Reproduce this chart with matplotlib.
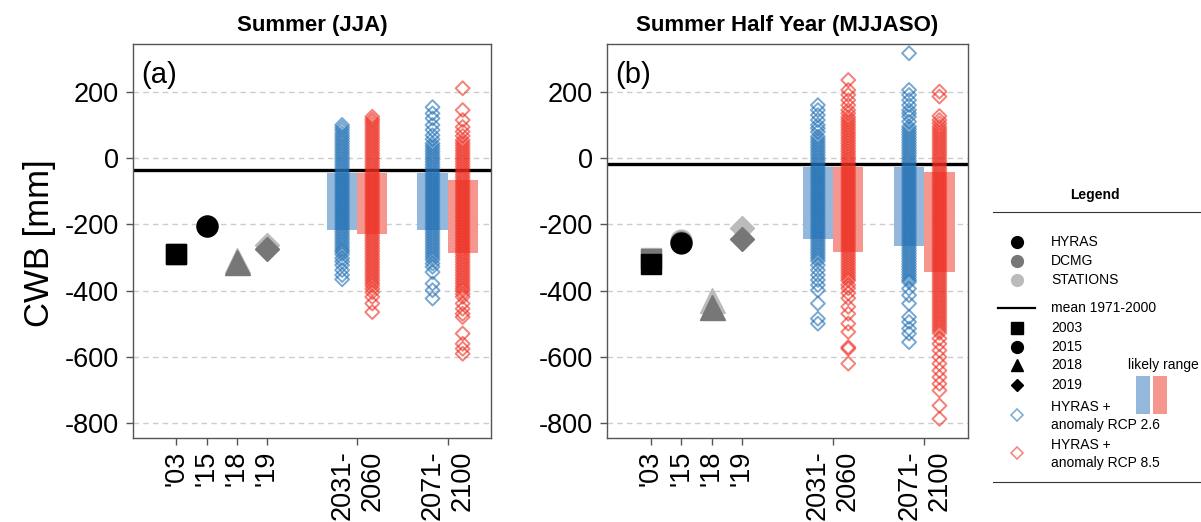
import matplotlib
matplotlib.use('Agg')

import numpy as np
import matplotlib.pyplot as plt
from matplotlib.patches import Rectangle

plt.rcParams['font.family'] = ['Liberation Sans', 'DejaVu Sans']
plt.rcParams['axes.unicode_minus'] = False

# ---------------------------------------------------------------------------
# data (CWB in mm)
# ---------------------------------------------------------------------------
panel_titles = ["Summer (JJA)", "Summer Half Year (MJJASO)"]
panel_tags = ["(a)", "(b)"]
tick_labels = ["'03", "'15", "'18", "'19", "2031-\n2060", "2071-\n2100"]
tick_pos = [1, 2, 3, 4, 7, 10]
obs_pos = [1, 2, 3, 4]
rcp26_pos = [6.5, 9.5]
rcp85_pos = [7.5, 10.5]

# observed years 2003, 2015, 2018, 2019 (nan = not available)
a_hyras = [-290, -205, np.nan, np.nan]
a_dcmg = [-290, -205, -314, -273]
a_stations = [-290, -205, -308, -262]
b_hyras = [-320, -256, np.nan, np.nan]
b_dcmg = [-305, -252, -451, -245]
b_stations = [-300, -248, -427, -212]

# mean 1971-2000
mean_ref = [-35, -18]

# likely range (top, bottom) for 2031-2060 and 2071-2100
a_range26 = [(-43, -217), (-43, -217)]
a_range85 = [(-43, -230), (-64, -286)]
b_range26 = [(-25, -244), (-25, -265)]
b_range85 = [(-25, -282), (-41, -345)]

# HYRAS + anomaly ensembles
a26_mid = [101, 93, 85, 76, 68, 60, 52, 44, 36, 28, 20, 12, 4, -4, -12, -20,
           -28, -36, -44, -52, -60, -68, -76, -84, -92, -100, -108, -116, -124,
           -132, -140, -148, -156, -164, -172, -180, -188, -196, -204, -212,
           -220, -228, -236, -244, -252, -260, -268, -276, -282, -290, -302,
           -312, -323, -338, -353, -366]
a85_mid = [126, 118, 111, 103, 95, 87, 79, 71, 63, 55, 47, 39, 31, 23, 15, 7,
           -1, -9, -17, -25, -33, -41, -49, -57, -65, -73, -81, -89, -97, -105,
           -113, -121, -129, -137, -145, -153, -161, -169, -177, -185, -193,
           -201, -209, -217, -225, -233, -241, -249, -257, -265, -273, -281,
           -289, -297, -305, -313, -321, -329, -337, -345, -353, -361, -369,
           -377, -385, -395, -405, -419, -439, -465]
a26_late = [155, 136, 121, 101, 86, 70, 58, 45, 37, 29, 21, 13, 5, -3, -11,
            -19, -27, -35, -43, -51, -59, -67, -75, -83, -91, -99, -107, -115,
            -123, -131, -139, -147, -155, -163, -171, -179, -187, -195, -203,
            -211, -219, -227, -235, -243, -251, -259, -267, -275, -283, -291,
            -299, -307, -318, -328, -344, -379, -399, -424]
a85_late = [212, 146, 116, 95, 81, 68, 55, 47, 39, 31, 23, 15, 7, -1, -9, -17,
            -25, -33, -41, -49, -57, -65, -73, -81, -89, -97, -105, -113, -121,
            -129, -137, -145, -153, -161, -169, -177, -185, -193, -201, -209,
            -217, -225, -233, -241, -249, -257, -265, -273, -281, -289, -297,
            -305, -313, -321, -329, -337, -345, -353, -361, -369, -377, -385,
            -393, -400, -410, -419, -439, -455, -470, -480, -530, -561, -576,
            -591]
b26_mid = [161, 146, 131, 116, 101, 91, 80, 66, 58, 50, 42, 34, 26, 18, 10, 2,
           -6, -14, -22, -30, -38, -46, -54, -62, -70, -78, -86, -94, -102,
           -110, -118, -126, -134, -142, -150, -158, -166, -174, -182, -190,
           -198, -206, -214, -222, -230, -238, -246, -254, -262, -270, -278,
           -286, -294, -302, -310, -323, -338, -353, -368, -383, -399, -439,
           -485, -500]
b85_mid = [237, 207, 192, 176, 161, 146, 136, 125, 117, 109, 101, 93, 85, 77,
           69, 61, 53, 45, 37, 29, 21, 13, 5, -3, -11, -19, -27, -35, -43, -51,
           -59, -67, -75, -83, -91, -99, -107, -115, -123, -131, -139, -147,
           -155, -163, -171, -179, -187, -195, -203, -211, -219, -227, -235,
           -243, -251, -259, -267, -275, -283, -291, -299, -307, -315, -323,
           -331, -339, -347, -355, -363, -370, -383, -393, -408, -423, -449,
           -470, -500, -525, -571, -576, -621]
b26_late = [318, 207, 192, 176, 161, 146, 136, 126, 111, 96, 88, 80, 72, 64,
            56, 48, 40, 32, 24, 16, 8, 0, -8, -16, -24, -32, -40, -48, -56,
            -64, -72, -80, -88, -96, -104, -112, -120, -128, -136, -144, -152,
            -160, -168, -176, -184, -192, -200, -208, -216, -224, -232, -240,
            -248, -256, -264, -272, -280, -288, -296, -304, -312, -320, -328,
            -336, -344, -352, -360, -368, -374, -394, -414, -439, -480, -495,
            -515, -530, -556]
b85_late = [202, 187, 128, 116, 106, 96, 88, 80, 72, 64, 56, 48, 40, 32, 24,
            16, 8, 0, -8, -16, -24, -32, -40, -48, -56, -64, -72, -80, -88,
            -96, -104, -112, -120, -128, -136, -144, -152, -160, -168, -176,
            -184, -192, -200, -208, -216, -224, -232, -240, -248, -256, -264,
            -272, -280, -288, -296, -304, -312, -320, -328, -336, -344, -352,
            -360, -368, -376, -384, -392, -400, -408, -416, -424, -432, -440,
            -448, -456, -464, -472, -480, -488, -496, -504, -512, -520, -528,
            -545, -561, -581, -601, -621, -642, -662, -682, -702, -748, -788]

# ---------------------------------------------------------------------------
# styles
# ---------------------------------------------------------------------------
BLUE = '#1f6fb4'
RED = '#ee2b1e'
LBLUE = '#93b8dc'
LRED = '#f5968f'
C_HYRAS = 'black'
C_DCMG = '#777777'
C_STAT = '#bbbbbb'
FRAME = '#555555'
obs_markers = ['s', 'o', '^', 'D']
obs_sizes = [15, 15, 18, 12]

fig = plt.figure(figsize=(12.01, 5.22), dpi=100)
W, H = 1201.0, 522.0
ax_a = fig.add_axes([133 / W, 1 - 438 / H, (491 - 133) / W, 394 / H])
ax_b = fig.add_axes([607 / W, 1 - 438 / H, (968 - 607) / W, 394 / H])

panels = [
    (ax_a, a_hyras, a_dcmg, a_stations, a_range26, a_range85,
     [a26_mid, a26_late], [a85_mid, a85_late]),
    (ax_b, b_hyras, b_dcmg, b_stations, b_range26, b_range85,
     [b26_mid, b26_late], [b85_mid, b85_late]),
]

for i, (ax, hy, dc, st, r26, r85, ens26, ens85) in enumerate(panels):
    # likely range bars
    for x, (top, bot) in zip(rcp26_pos, r26):
        ax.bar(x, top - bot, bottom=bot, width=1.0, color=LBLUE, zorder=2,
               linewidth=0)
    for x, (top, bot) in zip(rcp85_pos, r85):
        ax.bar(x, top - bot, bottom=bot, width=1.0, color=LRED, zorder=2,
               linewidth=0)

    ax.axhline(mean_ref[i], color='black', lw=2.4, zorder=2.5)

    # ensembles
    for x, vals in zip(rcp26_pos, ens26):
        ax.scatter(np.full(len(vals), x), vals, marker='D', s=50,
                   facecolors='none', edgecolors=BLUE, linewidths=1.4,
                   alpha=0.6, zorder=3)
    for x, vals in zip(rcp85_pos, ens85):
        ax.scatter(np.full(len(vals), x), vals, marker='D', s=50,
                   facecolors='none', edgecolors=RED, linewidths=1.4,
                   alpha=0.6, zorder=3)

    # observations: stations, dcmg, hyras (hyras on top)
    for vals, col in [(st, C_STAT), (dc, C_DCMG), (hy, C_HYRAS)]:
        for x, v, m, ms in zip(obs_pos, vals, obs_markers, obs_sizes):
            ax.plot(x, v, marker=m, ms=ms, color=col, mec=col, zorder=4,
                    linestyle='none')

    ax.set_xlim(-0.44, 11.44)
    ax.set_ylim(-846, 346)
    ax.set_yticks([200, 0, -200, -400, -600, -800])
    ax.set_xticks(tick_pos)
    ax.set_xticklabels(tick_labels, rotation=90, va='top', ha='center')
    for lbl in ax.get_xticklabels():
        lbl.set_multialignment('right')
    ax.tick_params(axis='both', labelsize=19.5, length=5, width=1,
                   color=FRAME)
    ax.tick_params(axis='x', pad=4)
    ax.tick_params(axis='y', pad=5)
    ax.set_axisbelow(True)
    ax.grid(axis='y', color='#cccccc', linestyle=(0, (4, 3)), linewidth=1)
    for sp in ax.spines.values():
        sp.set_color(FRAME)
        sp.set_linewidth(1)
    ax.set_title(panel_titles[i], fontsize=16, fontweight='bold', pad=9)
    ax.text(0.024, 0.921, panel_tags[i], transform=ax.transAxes,
            fontsize=21, ha='left', va='center')

fig.text(39 / W, 1 - 243 / H, 'CWB [mm]', rotation=90, fontsize=25,
         ha='center', va='center')

# ---------------------------------------------------------------------------
# legend panel
# ---------------------------------------------------------------------------
lg = fig.add_axes([990 / W, 0, 211 / W, 1])
lg.set_xlim(990, 1201)
lg.set_ylim(522, 0)
lg.axis('off')

lg.text(1095, 195, 'Legend', fontsize=10, fontweight='bold',
        ha='center', va='center')
lg.plot([993, 1201], [212, 212], color='#333333', lw=0.8)
lg.plot([993, 1201], [482, 482], color='#333333', lw=0.8)

tx = 1051
mx = 1017
fs = 10
for y, col, name in [(241.7, C_HYRAS, 'HYRAS'), (260.7, C_DCMG, 'DCMG'),
                     (280, C_STAT, 'STATIONS')]:
    lg.plot(mx, y, marker='o', ms=8.5, color=col, linestyle='none')
    lg.text(tx, y, name, fontsize=fs, va='center')

lg.plot([998, 1035], [308.3, 308.3], color='black', lw=1.6)
lg.text(tx, 308.3, 'mean 1971-2000', fontsize=fs, va='center')
for y, m, ms, name in [(328.3, 's', 8, '2003'), (346.7, 'o', 8.5, '2015'),
                       (365, '^', 9, '2018'), (385, 'D', 6.5, '2019')]:
    lg.plot(mx, y, marker=m, ms=ms, color='black', linestyle='none')
    lg.text(tx, y, name, fontsize=fs, va='center')

lg.plot(mx, 415, marker='D', ms=6, mfc='none', mec=BLUE, mew=1.1, alpha=0.6)
lg.text(tx, 416, 'HYRAS +\nanomaly RCP 2.6', fontsize=fs, va='center',
        linespacing=1.35)
lg.plot(mx, 453, marker='D', ms=6, mfc='none', mec=RED, mew=1.1, alpha=0.6)
lg.text(tx, 454, 'HYRAS +\nanomaly RCP 8.5', fontsize=fs, va='center',
        linespacing=1.35)

lg.text(1163, 365, 'likely range', fontsize=fs, ha='center', va='center')
lg.add_patch(Rectangle((1136, 376), 14, 38, color=LBLUE, lw=0))
lg.add_patch(Rectangle((1153, 376), 14, 38, color=LRED, lw=0))

plt.savefig('out.png', dpi=100)
